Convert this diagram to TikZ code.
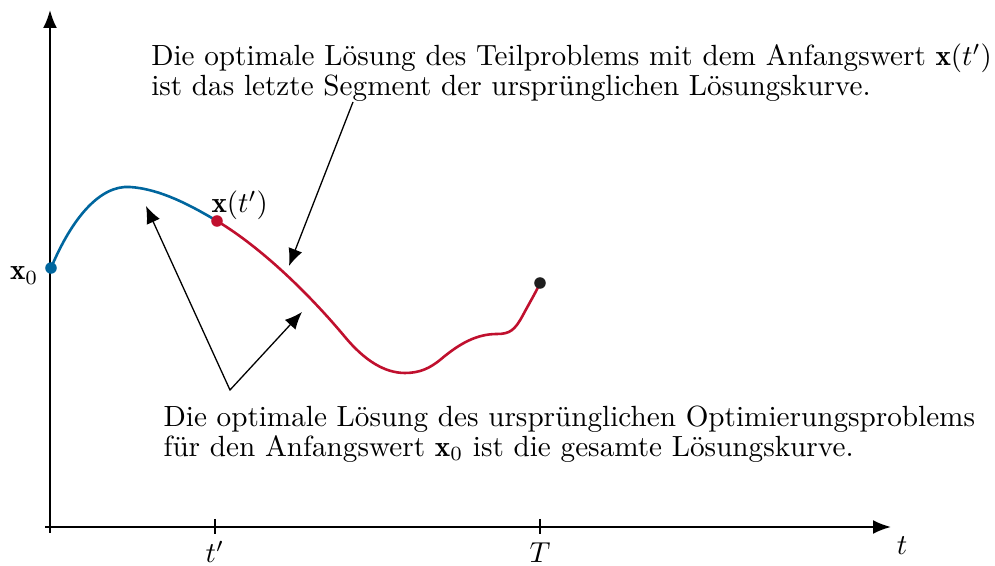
\documentclass[tikz,border=0pt]{standalone}
\usepackage{fontspec}
\usetikzlibrary{arrows.meta}
\definecolor{curveblue}{RGB}{0,102,158}
\definecolor{curvered}{RGB}{192,16,46}
\definecolor{dotblack}{RGB}{30,30,30}
\begin{document}
\begin{tikzpicture}[x=0.3466pt,y=-0.3466pt,
  >={Latex[length=6pt,width=5pt]},
  axis/.style={line width=0.7pt,-{Latex[length=6.2pt,width=4.8pt]}},
  tickmark/.style={line width=0.4pt},
  curve/.style={line width=0.9pt},
  pointer/.style={line width=0.45pt},
  dot/.style={circle,inner sep=0pt,minimum size=4pt},
  note/.style={font=\fontsize{10.12}{10.2}\selectfont,text width=300pt,align=left,inner sep=0pt,anchor=base west},
  lbl/.style={inner sep=0pt,font=\fontsize{10.12}{12}\selectfont}]
\useasboundingbox (0,0) rectangle (995,566);
% axes
\draw[axis] (50,533) -- (50,10);
\draw[axis] (45,527) -- (891,527);
\draw[tickmark] (215,519) -- (215,534);
\draw[tickmark] (540,519) -- (540,534);
\node[lbl,anchor=base] (tp) at (215,563) {$t'$};
\node[lbl,anchor=base] (tT) at (540,563) {$T$};
\node[lbl,anchor=base] (tt) at (902,555) {$t$};
% curves
\draw[curve,curveblue] (51,268) .. controls (72,218) and (100,185) .. (130,187)
  .. controls (160,189) and (190,205) .. (217,221);
\draw[curve,curvered] (217,221) .. controls (262,248) and (310,295) .. (345,337)
  .. controls (365,361) and (385,373) .. (405,373)
  .. controls (420,373) and (430,368) .. (440,360)
  .. controls (460,343) and (477,334) .. (497,334)
  .. controls (510,334) and (515,330) .. (523,315)
  .. controls (530,302) and (536,292) .. (540,283);
% points
\node[dot,fill=curveblue] (p0) at (51,268) {};
\node[dot,fill=curvered] (pt) at (217,221) {};
\node[dot,fill=dotblack] (pT) at (540,283) {};
\node[lbl,anchor=base east] (lx0) at (39,280) {$\mathbf{x}_0$};
\node[lbl,anchor=base west] (lxt) at (211,213) {$\mathbf{x}(t')$};
% texts
\node[note] (top) at (150.7,66) {Die optimale Lösung des Teilproblems mit dem Anfangswert $\mathbf{x}(t')$\\ist das letzte Segment der ursprünglichen Lösungskurve.};
\node[note] (bot) at (163,427) {Die optimale Lösung des ursprünglichen Optimierungsproblems\\für den Anfangswert $\mathbf{x}_0$ ist die gesamte Lösungskurve.};
% pointers
\coordinate (a1) at (353,102);
\coordinate (a1tip) at (289,266);
\coordinate (v) at (230,390);
\coordinate (v1) at (146,206);
\coordinate (v2) at (302,312);
\draw[pointer,->] (a1) -- (a1tip);
\draw[pointer,<->] (v1) -- (v) -- (v2);
\end{tikzpicture}
\end{document}
